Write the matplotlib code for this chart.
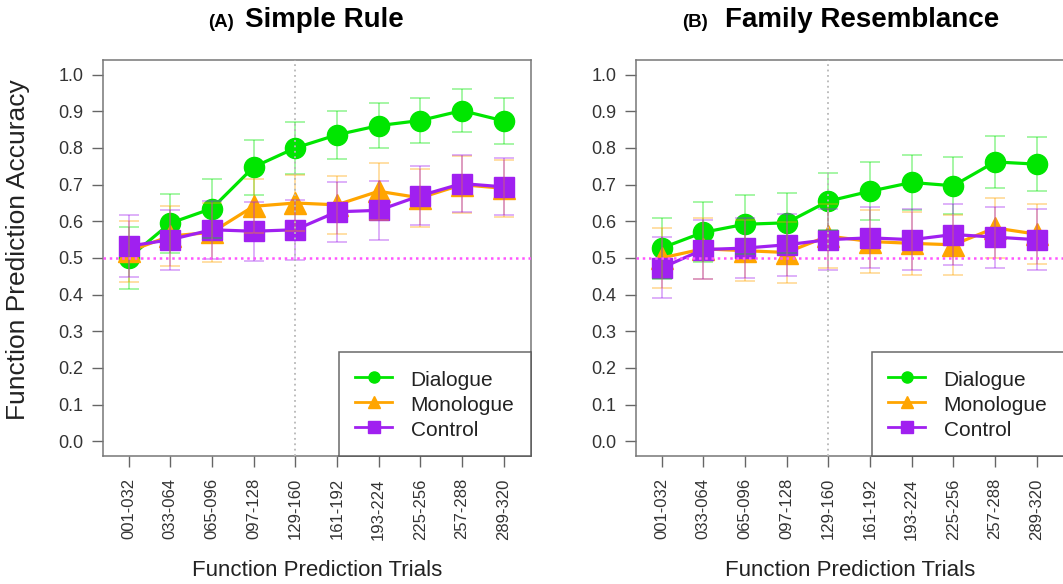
import matplotlib

matplotlib.use("Agg")
import matplotlib.pyplot as plt
from matplotlib.lines import Line2D
import numpy as np

plt.rcParams["font.family"] = ["Liberation Sans", "DejaVu Sans"]

# Trial blocks (32 trials each)
blocks = ["001-032", "033-064", "065-096", "097-128", "129-160",
          "161-192", "193-224", "225-256", "257-288", "289-320"]

# (A) Simple Rule: mean accuracy and error bar half-widths
simple_dialogue = [0.500, 0.595, 0.635, 0.748, 0.800, 0.836, 0.861, 0.875, 0.902, 0.874]
simple_dialogue_err = [0.085, 0.080, 0.080, 0.075, 0.072, 0.066, 0.062, 0.062, 0.058, 0.062]
simple_monologue = [0.518, 0.560, 0.570, 0.641, 0.650, 0.645, 0.682, 0.664, 0.700, 0.690]
simple_monologue_err = [0.083, 0.082, 0.080, 0.074, 0.077, 0.080, 0.078, 0.080, 0.078, 0.078]
simple_control = [0.532, 0.550, 0.577, 0.573, 0.577, 0.626, 0.630, 0.670, 0.703, 0.694]
simple_control_err = [0.085, 0.082, 0.079, 0.080, 0.082, 0.082, 0.080, 0.080, 0.077, 0.078]

# (B) Family Resemblance
family_dialogue = [0.527, 0.570, 0.592, 0.596, 0.655, 0.682, 0.706, 0.697, 0.762, 0.756]
family_dialogue_err = [0.083, 0.082, 0.080, 0.082, 0.078, 0.079, 0.075, 0.078, 0.072, 0.073]
family_monologue = [0.500, 0.525, 0.520, 0.515, 0.560, 0.545, 0.540, 0.536, 0.582, 0.565]
family_monologue_err = [0.083, 0.083, 0.083, 0.082, 0.088, 0.085, 0.085, 0.082, 0.082, 0.082]
family_control = [0.473, 0.523, 0.527, 0.536, 0.550, 0.555, 0.550, 0.564, 0.557, 0.550]
family_control_err = [0.083, 0.080, 0.082, 0.084, 0.083, 0.083, 0.083, 0.083, 0.083, 0.083]

conditions = ["Dialogue", "Monologue", "Control"]
colors = ["#00e600", "#ffa500", "#a020f0"]
markers = ["o", "^", "s"]
msizes = [14.5, 16.5, 14]

W, H = 1063, 584
fig = plt.figure(figsize=(W / 100, H / 100), dpi=100, facecolor="white")


def draw_panel(ax, series):
    x = np.arange(1, len(blocks) + 1)
    for (mean, err), c, m, ms in zip(series, colors, markers, msizes):
        ax.plot(x, mean, color=c, lw=2.3, marker=m, ms=ms, mec=c, zorder=3)
        ax.errorbar(x, mean, yerr=err, fmt="none", ecolor=c, elinewidth=1.1,
                    capsize=7, capthick=1.1, alpha=0.45, zorder=4)
    ax.axvline(5, color="#b8b8b8", lw=1.3, ls=(0, (1, 2)), zorder=5)
    ax.axhline(0.5, color="#ff55ff", lw=1.8, ls=(0, (1, 1.5)), zorder=5)

    ax.set_xlim(0.38, 10.65)
    ax.set_ylim(-0.04, 1.04)
    ax.set_xticks(x)
    ax.set_xticklabels(blocks, rotation=90, fontsize=12, color="#333333")
    ax.set_yticks(np.arange(0, 1.01, 0.1))
    ax.set_yticklabels([f"{v:.1f}" for v in np.arange(0, 1.01, 0.1)],
                       fontsize=13, color="#333333")
    ax.tick_params(axis="both", direction="out", length=8, width=1,
                   color="#666666")
    ax.tick_params(axis="y", pad=6)
    ax.tick_params(axis="x", pad=8)
    for sp in ax.spines.values():
        sp.set_color("#777777")
        sp.set_linewidth(1.1)

    handles = [Line2D([], [], color=c, lw=2, marker=m, ms=8, mec=c)
               for c, m in zip(colors, markers)]
    leg = ax.legend(handles, conditions, loc="lower right", fontsize=15,
                    frameon=True, fancybox=False, borderaxespad=0,
                    handlelength=1.75, handletextpad=0.9, labelspacing=0.15,
                    handleheight=1.2, borderpad=0.78)
    leg.get_frame().set_edgecolor("#444444")
    leg.get_frame().set_linewidth(1.1)
    leg.set_zorder(6)
    for t in leg.get_texts():
        t.set_color("#222222")


ax_a = fig.add_axes([102.7 / W, 1 - 456 / H, 428 / W, 396 / H])
draw_panel(ax_a, [(simple_dialogue, simple_dialogue_err),
                  (simple_monologue, simple_monologue_err),
                  (simple_control, simple_control_err)])

ax_b = fig.add_axes([635.7 / W, 1 - 456 / H, 428 / W, 396 / H])
draw_panel(ax_b, [(family_dialogue, family_dialogue_err),
                  (family_monologue, family_monologue_err),
                  (family_control, family_control_err)])

# Panel titles
base = 1 - 27 / H
fig.text(208 / W, base, "(A)", fontsize=13.5, fontweight="bold", va="baseline")
fig.text(245 / W, base, "Simple Rule", fontsize=20, fontweight="bold", va="baseline")
fig.text(682 / W, base, "(B)", fontsize=13.5, fontweight="bold", va="baseline")
fig.text(725 / W, base, "Family Resemblance", fontsize=20, fontweight="bold",
         va="baseline")

# Axis labels
fig.text(18 / W, 1 - 250 / H, "Function Prediction Accuracy", fontsize=19,
         rotation=90, ha="center", va="center", color="#222222")
fig.text(316.7 / W, 1 - 570 / H, "Function Prediction Trials", fontsize=16,
         ha="center", va="center", color="#222222")
fig.text(849.8 / W, 1 - 570 / H, "Function Prediction Trials", fontsize=16,
         ha="center", va="center", color="#222222")

fig.savefig("out.png", dpi=100, facecolor="white")
